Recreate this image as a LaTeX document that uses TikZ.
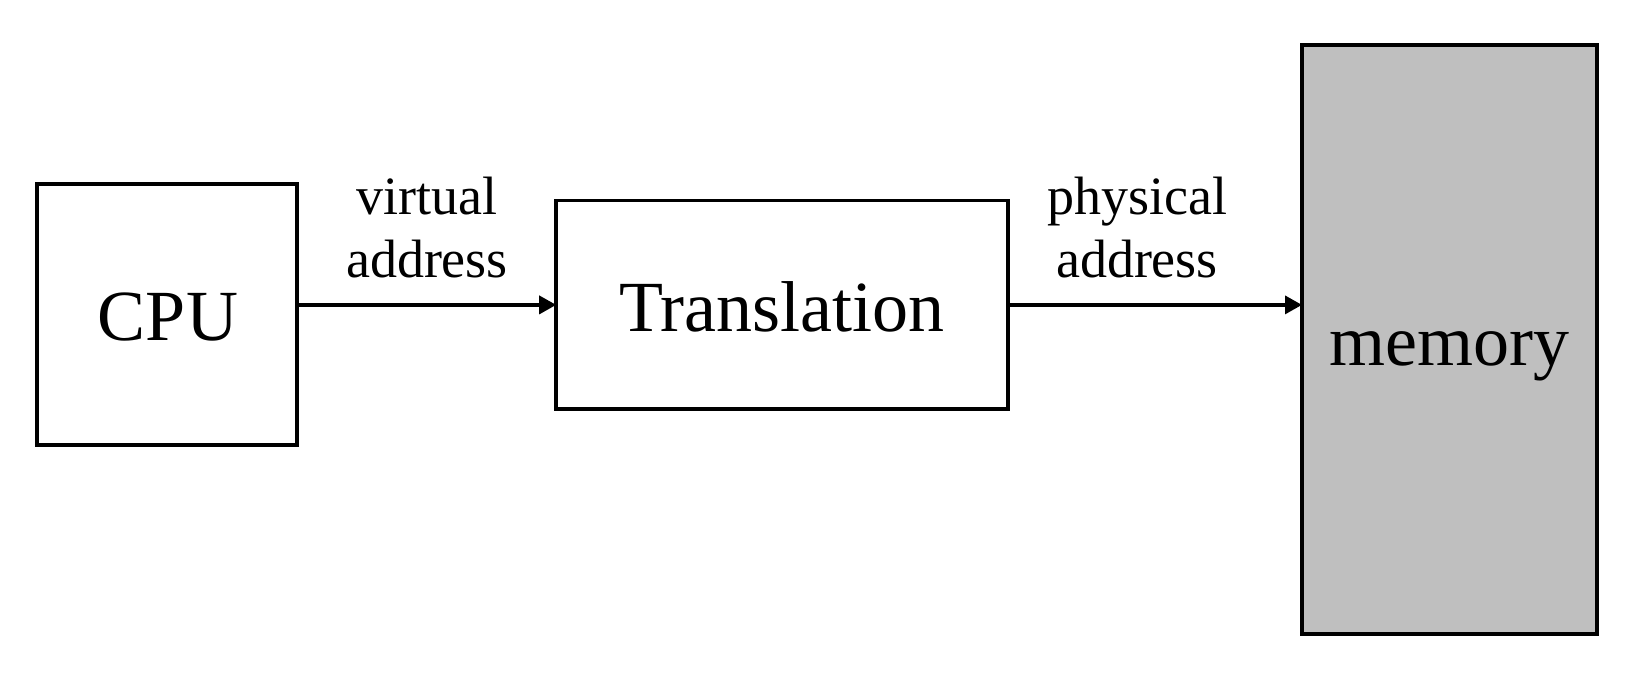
\documentclass[tikz,border=0pt]{standalone}
\usepackage{fontspec}
\setmainfont{Liberation Serif}
\usetikzlibrary{arrows.meta}
\definecolor{memgray}{RGB}{191,191,191}
\tikzset{
  box/.style={draw=black, line width=1.75pt, rectangle, inner sep=0pt, outer sep=0pt},
  bigtext/.style={font=\fontsize{36}{43}\selectfont, inner sep=0pt, anchor=base},
  lbl/.style={font=\fontsize{27}{31.5}\selectfont, align=center, inner sep=0pt, anchor=center},
  conn/.style={line width=1.75pt, -{Triangle[length=8.5pt, width=9pt]}}
}
\begin{document}
\begin{tikzpicture}[x=0.5pt, y=-0.5pt]
  \useasboundingbox (0,0) rectangle (1640,684);
  \node[box, minimum width=130pt, minimum height=130.5pt] (cpu) at (167,314.5) {};
  \node[box, minimum width=225.8pt, minimum height=104.2pt] (trans) at (782,304.9) {};
  \node[box, fill=memgray, minimum width=147.5pt, minimum height=294.5pt] (mem) at (1449.5,339.5) {};
  \node[bigtext] (cputext) at (168,341) {CPU};
  \node[bigtext] (transtext) at (782,331.5) {Translation};
  \node[bigtext] (memtext) at (1449,366) {memory};
  \draw[conn] (cpu.east |- trans.west) -- (trans.west);
  \draw[conn] (trans.east) -- (trans.east -| mem.west);
  \node[lbl] (vlabel) at (427,228) {virtual\\address};
  \node[lbl] (plabel) at (1137,228) {physical\\address};
\end{tikzpicture}
\end{document}
